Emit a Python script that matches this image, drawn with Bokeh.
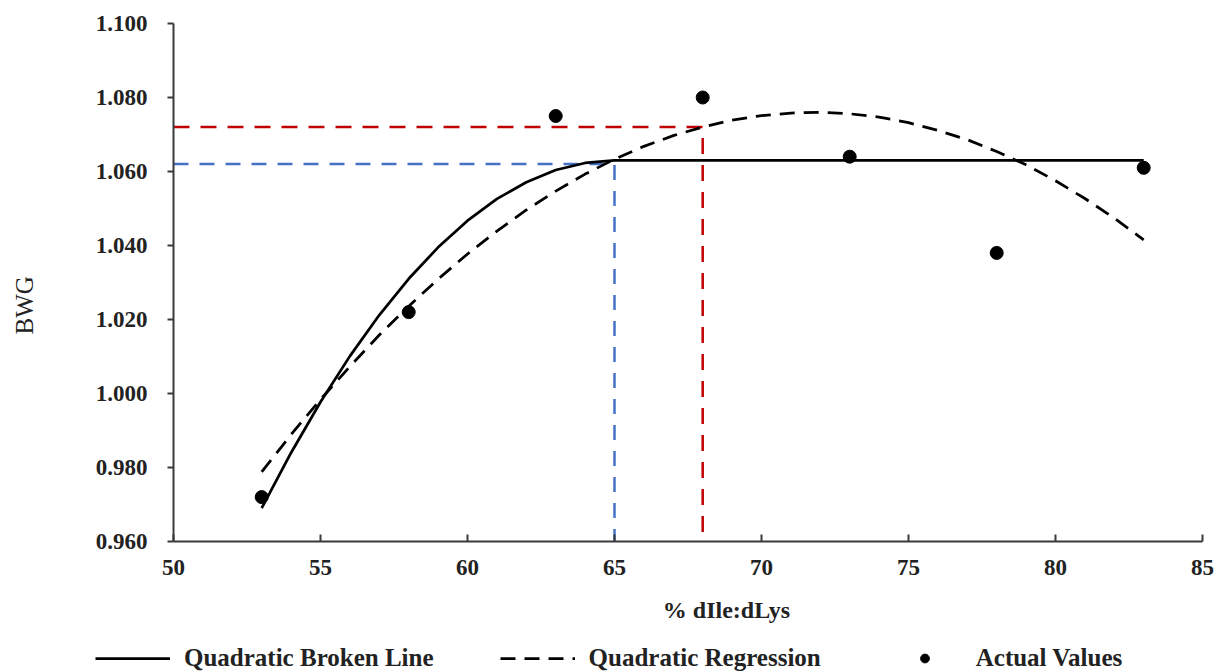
import math
from bokeh.plotting import figure
from bokeh.layouts import row, column
from bokeh.models import (FixedTicker, PrintfTickFormatter, Label, Legend, LegendItem,
                          Range1d)
from bokeh.embed import file_html
from bokeh.resources import INLINE

# ---- data ----
actual_x = [53, 58, 63, 68, 73, 78, 83]
actual_y = [0.972, 1.022, 1.075, 1.080, 1.064, 1.038, 1.061]

# quadratic broken line
qbl_x = [53, 54, 55, 56, 57, 58, 59, 60, 61, 62, 63, 64, 65, 83]
qbl_y = [0.9690, 0.9840, 0.9977, 1.0101, 1.0212, 1.0310, 1.0395, 1.0467, 1.0526,
         1.0571, 1.0604, 1.0623, 1.0630, 1.0630]

# quadratic regression
qr_x = [53, 54, 55, 56, 57, 58, 59, 60, 61, 62, 63, 64, 65, 66, 67, 68, 69, 70,
        71, 72, 73, 74, 75, 76, 77, 78, 79, 80, 81, 82, 83]
qr_y = [0.9788, 0.9889, 0.9984, 1.0073, 1.0158, 1.0236, 1.0309, 1.0377, 1.0439,
        1.0496, 1.0547, 1.0593, 1.0633, 1.0668, 1.0697, 1.0720, 1.0739, 1.0751,
        1.0758, 1.0760, 1.0756, 1.0747, 1.0732, 1.0711, 1.0686, 1.0654, 1.0618,
        1.0575, 1.0527, 1.0474, 1.0415]

# requirement estimates (break points)
blue_x, blue_y = 65, 1.062
red_x, red_y = 68, 1.072

x_ticks = [50, 55, 60, 65, 70, 75, 80, 85]
y_ticks = [0.960, 0.980, 1.000, 1.020, 1.040, 1.060, 1.080, 1.100]

x_title = "% dIle:dLys"
y_title = "BWG"
legend_labels = ["Quadratic Broken Line", "Quadratic Regression", "Actual Values"]

FONT = "Liberation Serif"
AXIS_COLOR = "#3a3a3a"
TEXT_COLOR = "#222222"

W, H = 1219, 672
LEFT_W = 60
MAIN_W = W - LEFT_W
MAIN_H = 590
BOTTOM_H = H - MAIN_H


def bare(fig):
    fig.outline_line_color = None
    fig.grid.visible = False
    fig.background_fill_color = "white"
    fig.border_fill_color = "white"
    return fig


# ---- main plot ----
p = bare(figure(width=MAIN_W, height=MAIN_H, output_backend="svg",
                toolbar_location=None,
                x_range=Range1d(x_ticks[0], x_ticks[-1]),
                y_range=Range1d(y_ticks[0], y_ticks[-1]),
                min_border_left=113, min_border_right=17, min_border_top=23,
                min_border_bottom=49))

p.xaxis.ticker = FixedTicker(ticks=x_ticks)
p.yaxis.ticker = FixedTicker(ticks=y_ticks)
p.yaxis.formatter = PrintfTickFormatter(format="%.3f")
for ax in (p.xaxis[0], p.yaxis[0]):
    ax.axis_line_color = AXIS_COLOR
    ax.axis_line_width = 2
    ax.major_tick_line_color = AXIS_COLOR
    ax.major_tick_line_width = 2
    ax.minor_tick_line_color = None
    ax.major_label_text_font = FONT
    ax.major_label_text_font_style = "bold"
    ax.major_label_text_font_size = "23px"
    ax.major_label_text_color = TEXT_COLOR
p.xaxis.major_tick_in = 7
p.xaxis.major_tick_out = 0
p.xaxis.major_label_standoff = 18
p.yaxis.major_tick_in = 0
p.yaxis.major_tick_out = 6
p.yaxis.major_label_standoff = 20

# guide lines
p.line([x_ticks[0], blue_x, blue_x], [blue_y, blue_y, y_ticks[0]],
       line_color="#4472C4", line_width=2.5, line_dash="15 11")
p.line([x_ticks[0], red_x, red_x], [red_y, red_y, y_ticks[0]],
       line_color="#C00000", line_width=2.5, line_dash="16 11")

# curves and points
LINE_STYLE = dict(line_color="black", line_width=2.75)
DASH = "15 9"
p.line(qbl_x, qbl_y, **LINE_STYLE)
p.line(qr_x, qr_y, line_dash=DASH, **LINE_STYLE)
p.scatter(actual_x, actual_y, size=13, color="black")

# ---- left strip: y axis title ----
pl = bare(figure(width=LEFT_W, height=MAIN_H, output_backend="svg",
                 toolbar_location=None, x_axis_type=None, y_axis_type=None,
                 x_range=Range1d(0, LEFT_W), y_range=Range1d(MAIN_H, 0),
                 min_border=0))
pl.add_layout(Label(x=24, y=321, text=y_title, text_font=FONT,
                    text_font_size="25px", angle=math.pi / 2,
                    text_align="center", text_baseline="middle",
                    text_color=TEXT_COLOR))

# ---- bottom strip: x axis title and legend (pixel-like coordinates) ----
pb = bare(figure(width=W, height=BOTTOM_H, output_backend="svg",
                 toolbar_location=None, x_axis_type=None, y_axis_type=None,
                 x_range=Range1d(0, W), y_range=Range1d(H, MAIN_H),
                 min_border=0))
pb.add_layout(Label(x=726, y=609, text=x_title, text_font=FONT,
                    text_font_style="bold", text_font_size="24px",
                    text_align="center", text_baseline="middle",
                    text_color=TEXT_COLOR))
# legend-only renderers: the series data fall far outside this strip's ranges
g1 = pb.line(qbl_x, qbl_y, **LINE_STYLE)
g2 = pb.line(qr_x, qr_y, line_dash=DASH, **LINE_STYLE)
g3 = pb.scatter(actual_x, actual_y, size=13, color="black")
legend = Legend(items=[LegendItem(label=legend_labels[0], renderers=[g1]),
                       LegendItem(label=legend_labels[1], renderers=[g2]),
                       LegendItem(label=legend_labels[2], renderers=[g3])],
                orientation="horizontal", location=(95, 0),
                glyph_width=75, glyph_height=22, label_height=22,
                label_standoff=14, spacing=66, padding=0, margin=0,
                border_line_color=None, background_fill_alpha=0,
                label_text_font=FONT, label_text_font_style="bold",
                label_text_font_size="25px", label_text_color=TEXT_COLOR)
pb.add_layout(legend)

layout = column(row(pl, p, spacing=0), pb, spacing=0)
open("out.html", "w").write(file_html(layout, INLINE))
